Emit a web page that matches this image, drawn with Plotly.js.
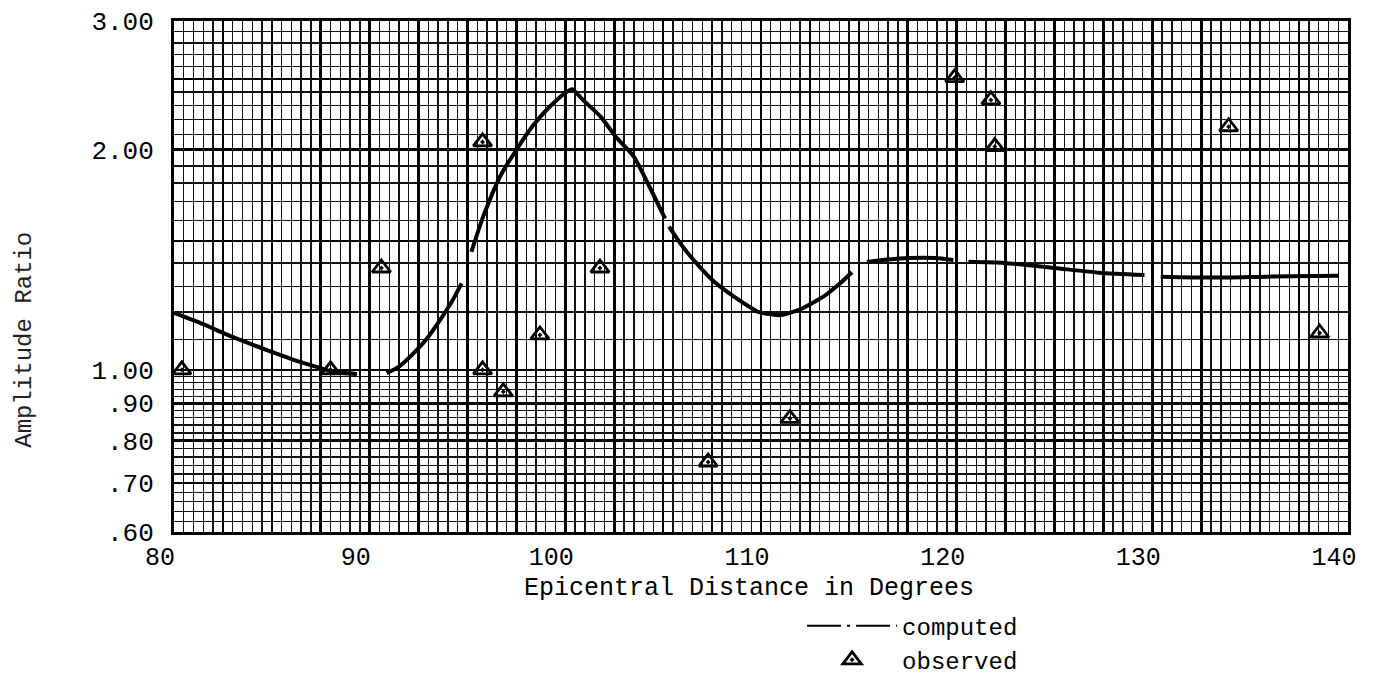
<!DOCTYPE html>
<html>
<head>
<meta charset="utf-8">
<script src="https://cdn.plot.ly/plotly-3.0.1.min.js"></script>
<style>html,body{margin:0;padding:0;background:#fff;}#chart{width:1384px;height:680px;}</style>
</head>
<body>
<div id="chart"></div>
<script>
// ---- computed curve (segments separated by null gaps) ----
var computedX = [80, 81.33, 83.0, 84.75, 86.44, 87.46, 88.12, 89.35, null,
  90.87, 91.5, 92.4, 93.0, 93.6, 94.2, 94.7, null,
  95.2, 95.8, 96.66, 97.5, 98.36, 99.2, 100.07, 100.35, 100.9, 101.8, 102.6, 103.5, 104.3, 105.1, null,
  105.3, 106.0, 106.9, 107.7, 108.6, 109.4, 109.86, 110.6, 111.05, 112.0, 113.2, 114.0, 114.65, null,
  115.41, 116.5, 117.54, 118.89, 119.83, null,
  120.6, 122.41, 125.0, 127.3, 129.6, null,
  130.43, 133.04, 135.9, 139.53];
var computedY = [1.196, 1.159, 1.109, 1.064, 1.025, 1.006, 0.993, 0.987, null,
  0.989, 1.01, 1.064, 1.11, 1.17, 1.24, 1.313, null,
  1.45, 1.62, 1.837, 2.0, 2.16, 2.29, 2.40, 2.42, 2.34, 2.22, 2.08, 1.957, 1.78, 1.61, null,
  1.57, 1.474, 1.38, 1.313, 1.26, 1.22, 1.20, 1.19, 1.188, 1.21, 1.26, 1.31, 1.36, null,
  1.404, 1.415, 1.422, 1.422, 1.413, null,
  1.405, 1.40, 1.378, 1.358, 1.348, null,
  1.341, 1.337, 1.341, 1.345];

// ---- observed amplitude ratios ----
var observedX = [80.4, 88.0, 90.6, 95.77, 95.77, 96.83, 98.7, 101.77, 107.3, 111.48, 119.9, 121.75, 121.95, 133.9, 138.55];
var observedY = [1.0, 1.0, 1.378, 2.05, 1.0, 0.933, 1.116, 1.378, 0.748, 0.858, 2.51, 2.34, 2.02, 2.15, 1.123];

// ---- axis ticks ----
var xTickVals = [80, 82.5, 85, 87.5, 90, 92.5, 95, 97.5, 100, 102.5, 105, 107.5, 110, 112.5, 115, 117.5, 120, 122.5, 125, 127.5, 130, 132.5, 135, 137.5, 140];
var xTickLabels = ['80', '', '', '', '90', '', '', '', '100', '', '', '', '110', '', '', '', '120', '', '', '', '130', '', '', '', '140'];
var yTickVals = [0.6, 0.7, 0.8, 0.9, 1.0, 1.5, 2.0, 2.5, 3.0];
var yTickLabels = ['.60', '.70', '.80', '.90', '1.00', '', '2.00', '', '3.00'];

// fine graph-paper rulings on the log axis
var yFine = [];
for (var i = 31; i < 50; i++) { var v = +(i * 0.02).toFixed(2); if (yTickVals.indexOf(v) < 0) yFine.push(v); }
for (var j = 11; j < 30; j++) { var w = +(j * 0.1).toFixed(1); if (yTickVals.indexOf(w) < 0) yFine.push(w); }

var FONT = 'Liberation Mono, DejaVu Sans Mono, monospace';

var traces = [
  {
    x: computedX, y: computedY, type: 'scatter', mode: 'lines',
    line: {color: '#000', width: 4, shape: 'spline', smoothing: 0.6},
    connectgaps: false, showlegend: false, hoverinfo: 'skip'
  },
  {
    x: [null], y: [null], type: 'scatter', mode: 'lines', name: 'computed',
    line: {color: '#000', width: 2, dash: '34px,6px,3px,6px'}
  },
  {
    x: observedX, y: observedY, type: 'scatter', mode: 'markers', name: 'observed',
    marker: {symbol: 'triangle-up-open-dot', size: 16, color: '#000', line: {color: '#000', width: 2.8}}
  }
];

var layout = {
  width: 1384, height: 680,
  margin: {l: 174, r: 36, t: 21, b: 148, autoexpand: false},
  paper_bgcolor: '#fff', plot_bgcolor: '#fff',
  font: {family: FONT, size: 25, color: '#000'},
  xaxis: {
    range: [80, 140], tickmode: 'array', tickvals: xTickVals, ticktext: xTickLabels,
    showgrid: true, gridcolor: '#000', gridwidth: 2.6,
    minor: {dtick: 0.5, tick0: 80, showgrid: true, gridcolor: '#111', gridwidth: 1.4},
    showline: true, linecolor: '#000', linewidth: 3, mirror: true, zeroline: false,
    ticks: '', ticklabelstandoff: 0, ticklabelshift: -14,
    tickfont: {family: FONT, size: 25, color: '#000'}
  },
  yaxis: {
    type: 'log', range: [Math.log10(0.6), Math.log10(3)],
    tickmode: 'array', tickvals: yTickVals, ticktext: yTickLabels,
    showgrid: true, gridcolor: '#000', gridwidth: 2.6,
    minor: {tickmode: 'array', tickvals: yFine, showgrid: true, gridcolor: '#111', gridwidth: 1.4},
    showline: true, linecolor: '#000', linewidth: 3, mirror: true, zeroline: false,
    ticks: '', ticklabelstandoff: 12,
    tickfont: {family: FONT, size: 26, color: '#000'}
  },
  legend: {
    x: 0.535, y: -0.14, xanchor: 'left', yanchor: 'top', xref: 'paper', yref: 'paper',
    bgcolor: 'rgba(0,0,0,0)', itemwidth: 90, tracegroupgap: 0,
    font: {family: FONT, size: 24, color: '#000'}
  },
  showlegend: true,
  annotations: [
    {
      text: 'Epicentral Distance in Degrees', xref: 'paper', yref: 'paper',
      x: 0.49, y: -0.11, showarrow: false, xanchor: 'center', yanchor: 'middle',
      font: {family: FONT, size: 25, color: '#000'}
    },
    {
      text: 'Amplitude Ratio', textangle: -90, xref: 'paper', yref: 'paper',
      x: -0.127, y: 0.376, showarrow: false, xanchor: 'center', yanchor: 'middle',
      font: {family: FONT, size: 24, color: '#222'}
    }
  ]
};

Plotly.newPlot('chart', traces, layout, {displayModeBar: false, staticPlot: true});
</script>
</body>
</html>
